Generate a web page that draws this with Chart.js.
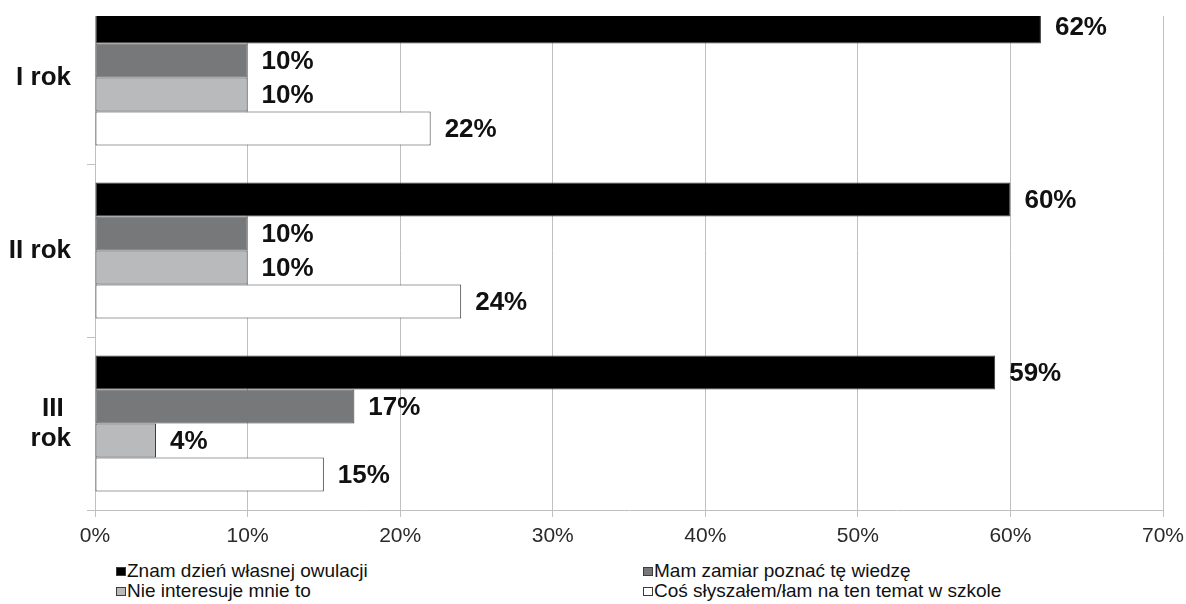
<!DOCTYPE html>
<html>
<head>
<meta charset="utf-8">
<script src="https://cdn.jsdelivr.net/npm/chart.js@4/dist/chart.umd.min.js"></script>
<style>
  html, body { margin: 0; padding: 0; background: #fff; width: 1186px; height: 604px; overflow: hidden; position: relative; }
  #clip { position: absolute; left: 0; top: 16px; width: 1186px; height: 540px; overflow: hidden; }
  #c { position: absolute; left: 0; top: -25px; }
  .leg { position: absolute; font-family: "Liberation Sans", Arial, sans-serif; font-size: 19px; line-height: 20px; color: #111; white-space: nowrap; }
  .leg .sq { display: inline-block; width: 8px; height: 7px; border: 1px solid #3c3c3c; margin-right: 1px; vertical-align: 1px; }
</style>
</head>
<body>
<div id="clip"><canvas id="c" width="1186" height="560"></canvas></div>
<div id="legend"></div>
<script>
// ---- data ----
const categories = ['I rok', 'II rok', ['III ', 'rok']];
const seriesNames = ['Znam dzień własnej owulacji', 'Mam zamiar poznać tę wiedzę', 'Nie interesuje mnie to', 'Coś słyszałem/łam na ten temat w szkole'];
const znamValues = [62, 60, 59];
const mamZamiarValues = [10, 10, 17];
const nieInteresujeValues = [10, 10, 4];
const cosSlyszalemValues = [22, 24, 15];
const xTickValues = [0, 10, 20, 30, 40, 50, 60, 70];
const seriesColors = ['#000000', '#76787a', '#b9babc', '#ffffff'];

const FONT = '"Liberation Sans", Arial, sans-serif';
const seriesValues = [znamValues, mamZamiarValues, nieInteresujeValues, cosSlyszalemValues];

const labelPlugin = {
  id: 'barLabels',
  afterDatasetsDraw(chart) {
    const ctx = chart.ctx;
    ctx.save();
    ctx.font = 'bold 26px ' + FONT;
    ctx.fillStyle = '#111';
    ctx.textAlign = 'left';
    ctx.textBaseline = 'middle';
    chart.data.datasets.forEach((ds, i) => {
      const meta = chart.getDatasetMeta(i);
      meta.data.forEach((bar, j) => {
        ctx.fillText(ds.data[j] + '%', bar.x + 14, bar.y + 1);
      });
    });
    ctx.restore();
  }
};

new Chart(document.getElementById('c'), {
  type: 'bar',
  data: {
    labels: categories,
    datasets: seriesNames.map((name, i) => ({
      label: name,
      data: seriesValues[i],
      backgroundColor: seriesColors[i],
      borderColor: '#3c3c3c',
      borderWidth: 1,
      borderSkipped: false,
      barPercentage: 1,
      categoryPercentage: 0.786
    }))
  },
  options: {
    indexAxis: 'y',
    responsive: false,
    animation: false,
    layout: { padding: { left: 0, right: 23, top: 0, bottom: 0 } },
    plugins: { legend: { display: false }, tooltip: { enabled: false } },
    scales: {
      x: {
        min: 0, max: 70,
        afterBuildTicks: (s) => { s.ticks = xTickValues.map(v => ({ value: v })); },
        afterFit: (s) => { s.height = 41; s.paddingLeft = 0; s.paddingRight = 0; s.paddingTop = 0; s.paddingBottom = 0; },
        ticks: { callback: (v) => v + '%', color: '#2a2a2a', font: { family: FONT, size: 21 }, padding: 7, maxRotation: 0 },
        grid: { color: '#c0c0c0', lineWidth: 1, tickLength: 7, drawTicks: true },
        border: { color: '#c0c0c0', width: 1 }
      },
      y: {
        afterFit: (s) => { s.width = 95; s.paddingTop = 0; s.paddingBottom = 0; s.paddingLeft = 0; s.paddingRight = 0; },
        ticks: { color: '#111', font: { family: FONT, size: 26, weight: 'bold', lineHeight: 1.15 }, padding: 16, crossAlign: 'near' },
        grid: { offset: true, drawOnChartArea: false, color: '#c0c0c0', tickLength: 8 },
        border: { color: '#c0c0c0', width: 1 }
      }
    }
  },
  plugins: [labelPlugin]
});

// HTML legend (two columns)
const legendPos = [[116, 561], [643, 561], [116, 581], [643, 581]];
const legendEl = document.getElementById('legend');
seriesNames.forEach((name, i) => {
  const d = document.createElement('div');
  d.className = 'leg';
  d.style.left = legendPos[i][0] + 'px';
  d.style.top = legendPos[i][1] + 'px';
  const sq = document.createElement('span');
  sq.className = 'sq';
  sq.style.background = seriesColors[i];
  d.appendChild(sq);
  d.appendChild(document.createTextNode(name));
  legendEl.appendChild(d);
});
</script>
</body>
</html>
